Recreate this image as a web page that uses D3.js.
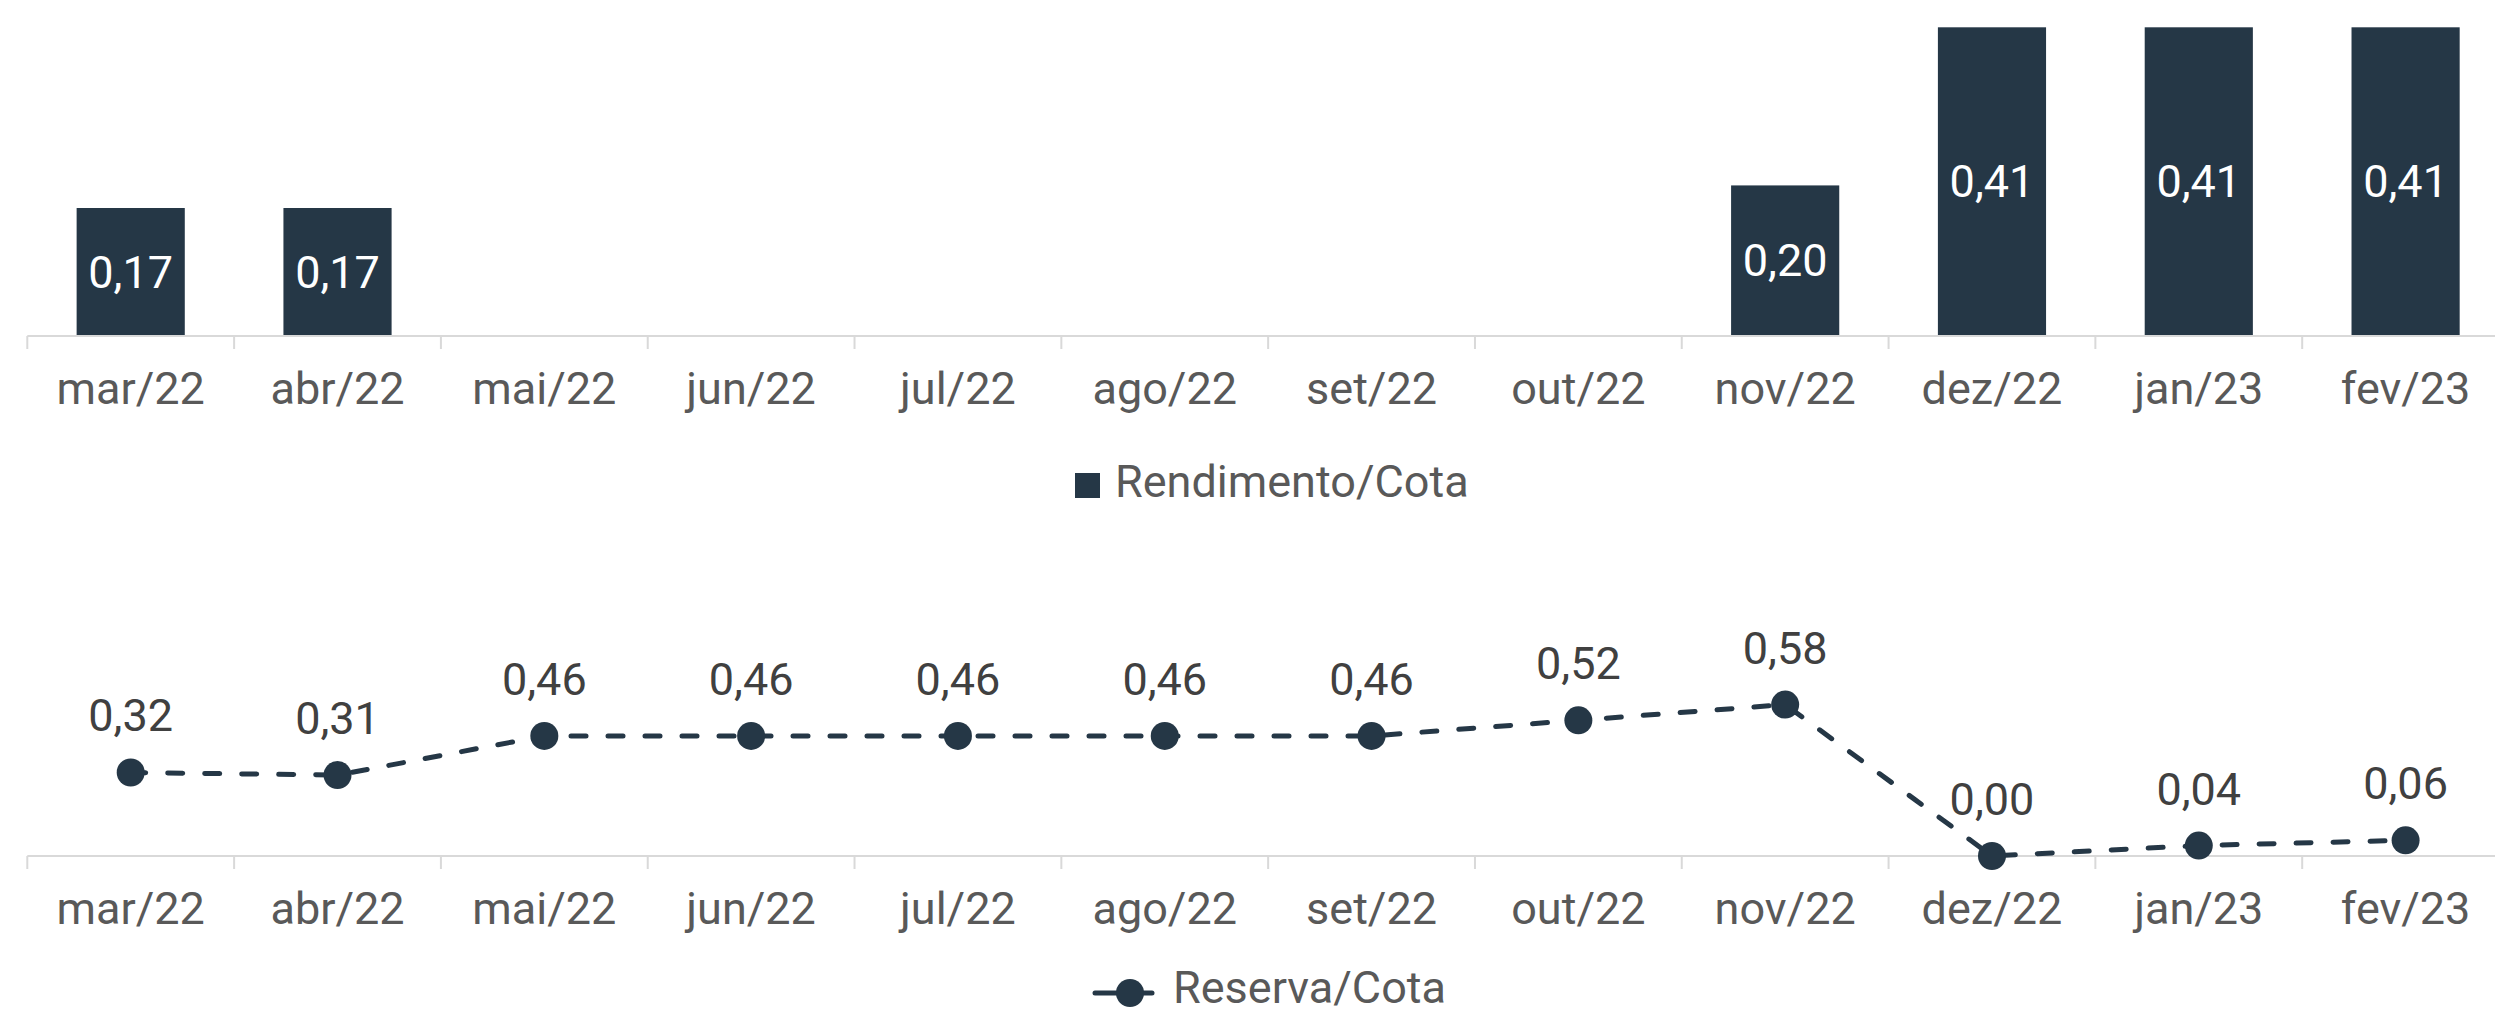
<!DOCTYPE html>
<html>
<head>
<meta charset="utf-8">
<script src="https://cdn.jsdelivr.net/npm/d3@7"></script>
<style>
  html, body { margin: 0; padding: 0; background: #fff; overflow: hidden; }
  svg { display: block; font-family: Roboto, sans-serif; }
</style>
</head>
<body>
<div id="chart"></div>
<script>
// data
const months = ['mar/22', 'abr/22', 'mai/22', 'jun/22', 'jul/22', 'ago/22',
  'set/22', 'out/22', 'nov/22', 'dez/22', 'jan/23', 'fev/23'];
const rendimento = [0.17, 0.17, null, null, null, null, null, null, 0.20, 0.41, 0.41, 0.41];
const reserva = [0.32, 0.31, 0.46, 0.46, 0.46, 0.46, 0.46, 0.52, 0.58, 0.00, 0.04, 0.06];

const width = 2495;
const height = 1017;
const navy = '#253746';
const fmt = (v) => v.toFixed(2).replace('.', ',');

const svg = d3.select('#chart').append('svg').attr('width', width).attr('height', height);

// shared x scale (last band runs a bit past the right edge, like the original)
const x = d3.scaleBand().domain(months).range([27.3, 2509]).paddingInner(0.477).paddingOuter(0.2385);

function drawAxis(yPos) {
  const g = svg.append('g').attr('transform', 'translate(0,' + yPos + ')');
  g.append('line')
    .attr('x1', 27.3).attr('x2', 2509)
    .attr('stroke', '#d9d9d9').attr('stroke-width', 2);
  // tick marks on band boundaries
  const step = x.step();
  g.selectAll('.tick')
    .data(d3.range(months.length + 1))
    .enter()
    .append('line')
    .attr('x1', (i) => 27.3 + i * step)
    .attr('x2', (i) => 27.3 + i * step)
    .attr('y1', 0).attr('y2', 13)
    .attr('stroke', '#d9d9d9').attr('stroke-width', 2);
  g.selectAll('.lbl')
    .data(months)
    .enter()
    .append('text')
    .attr('x', (d) => x(d) + x.bandwidth() / 2)
    .attr('y', 68)
    .attr('text-anchor', 'middle')
    .attr('fill', '#595959')
    .style('font-size', '45px')
    .text((d) => d);
}

// top: bars
const yBar = d3.scaleLinear().domain([0, 0.41]).range([336, 27.3]);
const barData = months.map((m, i) => ({ m: m, v: rendimento[i] })).filter((d) => d.v != null);

svg.selectAll('.bar')
  .data(barData)
  .enter()
  .append('rect')
  .attr('x', (d) => x(d.m))
  .attr('width', x.bandwidth())
  .attr('y', (d) => yBar(d.v))
  .attr('height', (d) => yBar(0) - yBar(d.v))
  .attr('fill', navy);

svg.selectAll('.barlabel')
  .data(barData)
  .enter()
  .append('text')
  .attr('x', (d) => x(d.m) + x.bandwidth() / 2)
  .attr('y', (d) => (yBar(d.v) + yBar(0)) / 2)
  .attr('dy', '0.35em')
  .attr('text-anchor', 'middle')
  .attr('fill', '#ffffff')
  .style('font-size', '45px')
  .text((d) => fmt(d.v));

drawAxis(336);

// legend 1
svg.append('rect').attr('x', 1075).attr('y', 473).attr('width', 25).attr('height', 25).attr('fill', navy);
svg.append('text').attr('x', 1115).attr('y', 497).attr('fill', '#595959')
  .style('font-size', '45px').text('Rendimento/Cota');

// bottom: dashed line
const yLine = d3.scaleLinear().domain([0, 1]).range([856, 595]);
const lineData = months.map((m, i) => ({ m: m, v: reserva[i] }));
const cx = (d) => x(d.m) + x.bandwidth() / 2;

drawAxis(856);

svg.append('path')
  .datum(lineData)
  .attr('d', d3.line().x(cx).y((d) => yLine(d.v)))
  .attr('fill', 'none')
  .attr('stroke', navy)
  .attr('stroke-width', 5)
  .attr('stroke-linecap', 'round')
  .attr('stroke-dasharray', '15,22');

svg.selectAll('.dot')
  .data(lineData)
  .enter()
  .append('circle')
  .attr('cx', cx)
  .attr('cy', (d) => yLine(d.v))
  .attr('r', 14)
  .attr('fill', navy);

svg.selectAll('.dotlabel')
  .data(lineData)
  .enter()
  .append('text')
  .attr('x', cx)
  .attr('y', (d) => yLine(d.v) - 41)
  .attr('text-anchor', 'middle')
  .attr('fill', '#404040')
  .style('font-size', '45px')
  .text((d) => fmt(d.v));

// legend 2 (kept just inside the bottom edge)
svg.append('line').attr('x1', 1095).attr('x2', 1152).attr('y1', 993).attr('y2', 993)
  .attr('stroke', navy).attr('stroke-width', 5).attr('stroke-linecap', 'round');
svg.append('circle').attr('cx', 1130).attr('cy', 993).attr('r', 14).attr('fill', navy);
svg.append('text').attr('x', 1173).attr('y', 1003).attr('fill', '#595959')
  .style('font-size', '45px').text('Reserva/Cota');
</script>
</body>
</html>
